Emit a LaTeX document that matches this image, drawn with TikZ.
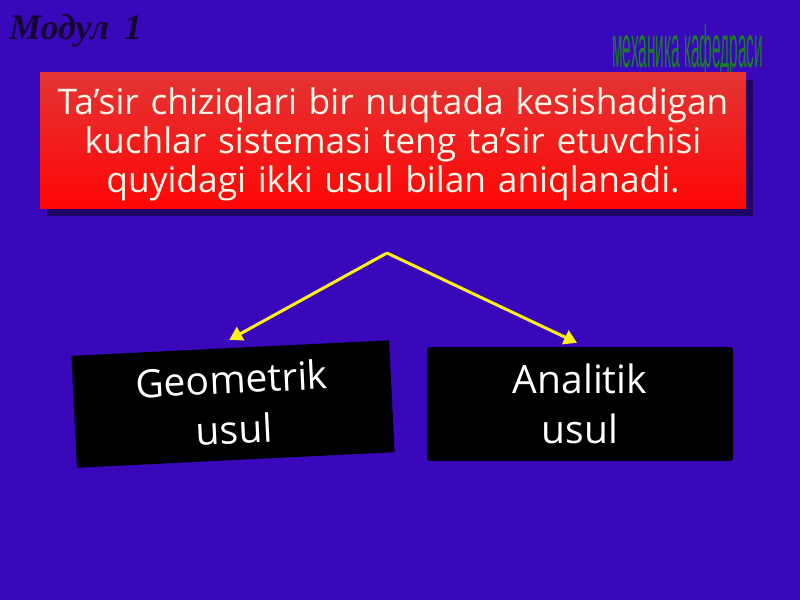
\documentclass[tikz,border=0pt]{standalone}
\usepackage{fontspec}
\setmainfont{Open Sans}
\newfontfamily\serifbi{Liberation Serif}
\newfontfamily\narrowf{Liberation Sans}
\usetikzlibrary{arrows.meta,shadows,calc}
\definecolor{bgblue}{RGB}{56,8,186}
\definecolor{redtop}{RGB}{228,52,52}
\definecolor{redbot}{RGB}{255,6,6}
\definecolor{cream}{RGB}{255,248,232}
\definecolor{arrowyellow}{RGB}{255,240,20}
\definecolor{deptgreen}{RGB}{28,125,40}
\definecolor{modcol}{RGB}{20,6,50}
\tikzset{
  header/.style={top color=redtop, bottom color=redbot, draw=none,
    minimum width=706pt, minimum height=136pt,
    drop shadow={shadow xshift=7pt, shadow yshift=-7pt, fill=black, opacity=0.45}},
  headtext/.style={text width=700pt, align=center, inner sep=0pt,
    text=cream, font=\fontsize{35.3}{39}\selectfont},
  methodbox/.style={fill=black, draw=none, text=white, align=center,
    font=\fontsize{39}{50}\selectfont, inner sep=0pt},
  yarrow/.style={draw=arrowyellow, line width=3pt, line join=round,
    -{Triangle[length=13pt,width=15pt]}}
}
\begin{document}
\begin{tikzpicture}[x=1pt,y=-1pt]
\fill[bgblue] (0,0) rectangle (800,600);
\useasboundingbox (0,0) rectangle (800,600);
\node[anchor=base west, text=modcol, font=\serifbi\bfseries\itshape\fontsize{36}{40}\selectfont, inner sep=0pt] (modul) at (9,39) {Модул\ \kern6pt 1};
\node[anchor=base west, text=deptgreen, inner sep=0pt] (dept) at (612,67)
  {\resizebox{151pt}{43pt}{\narrowf механика кафедраси}};
\node[header] (head) at (393,140.5) {};
\node[headtext] (headtxt) at ($(head.center)+(0,4)$) {Ta’sir chiziqlari bir nuqtada kesishadigan\\ kuchlar sistemasi teng ta’sir etuvchisi\\ quyidagi ikki usul bilan aniqlanadi.};
\node[methodbox, rotate=2.8, minimum width=318pt, minimum height=112pt] (geo) at (233,404) {Geometrik\\usul};
\node[methodbox, rounded corners=3pt, minimum width=306pt, minimum height=114pt] (anal) at (580,404) {Analitik\\usul};
\coordinate (apex) at (387,253);
\draw[yarrow] (apex) -- ($(geo.north)+(-1,-8)$);
\draw[yarrow] (apex) -- ($(anal.north)+(-3,-4)$);
\end{tikzpicture}
\end{document}
